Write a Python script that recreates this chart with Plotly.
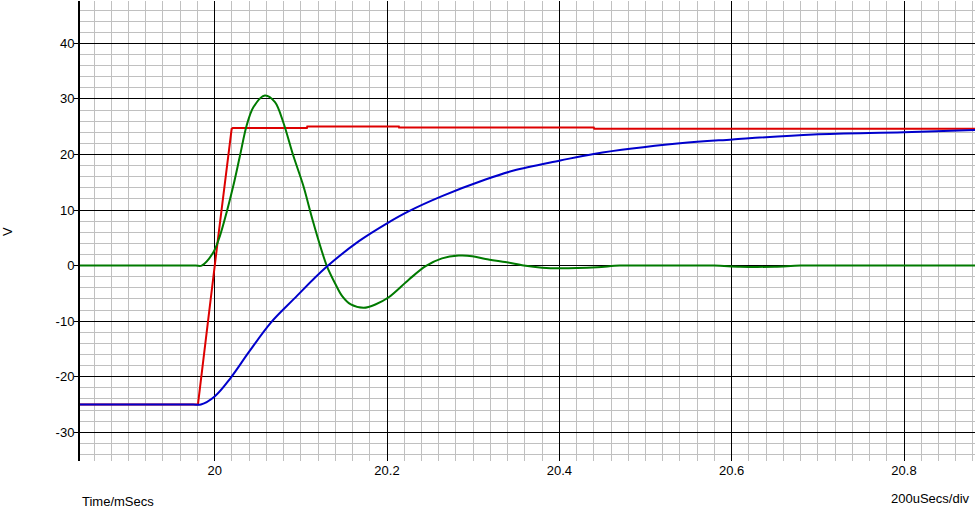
import plotly.graph_objects as go

# Time values (ms) and voltages (V)
red_t = [19.84, 19.9806, 20.0043, 20.0197, 20.021, 20.107, 20.1075,
         20.2137, 20.214, 20.44, 20.4405, 20.89]
red_v = [-25, -25, 5.4, 24.6, 24.75, 24.75, 25.05,
         25.05, 24.85, 24.85, 24.65, 24.65]

green_t = [19.84, 19.9, 19.95, 19.978, 19.9849, 19.9985, 20.0062, 20.0139, 20.0217, 20.0294,
           20.0371, 20.0449, 20.0583, 20.07, 20.0796, 20.0912, 20.1028, 20.1144, 20.13, 20.1404,
           20.148, 20.158, 20.173, 20.1865, 20.202, 20.2255, 20.2448, 20.2638, 20.2832, 20.2989,
           20.3143, 20.339, 20.3587, 20.38, 20.401, 20.444, 20.47, 20.52, 20.58, 20.61,
           20.65, 20.68, 20.75, 20.89]
green_v = [0, 0, 0, 0, 0, 2.4, 5.4, 9.6, 14.4, 19.8,
           25.2, 28.5, 30.6, 29.4, 25.8, 19.8, 14.4, 7.8, 0, -3.4,
           -5.5, -7.0, -7.6, -7.0, -5.7, -2.5, -0.1, 1.3, 1.8, 1.7,
           1.2, 0.6, 0, -0.4, -0.5, -0.3, 0, 0, 0, -0.2,
           -0.2, 0, 0, 0]

blue_t = [19.84, 19.9, 19.95, 19.975, 19.984, 20.0003, 20.0186, 20.04, 20.065, 20.092,
          20.1286, 20.1674, 20.201, 20.2255, 20.2638, 20.3143, 20.347, 20.401, 20.44, 20.54,
          20.601, 20.695, 20.80, 20.89]
blue_v = [-25, -25, -25, -25, -25, -23.5, -20.2, -15.5, -10.3, -6.0,
          -0.4, 4.4, 7.7, 9.8, 12.5, 15.5, 17.1, 18.9, 20.1, 22.0,
          22.7, 23.6, 24.0, 24.45]

x_ticks = [20, 20.2, 20.4, 20.6, 20.8]
x_tick_labels = ["20", "20.2", "20.4", "20.6", "20.8"]
y_ticks = [-30, -20, -10, 0, 10, 20, 30, 40]
y_tick_labels = ["-30", "-20", "-10", "0", "10", "20", "30", "40"]

FONT = "Liberation Sans, Arial, sans-serif"

fig = go.Figure()
fig.add_trace(go.Scatter(x=red_t, y=red_v, mode="lines",
                         line=dict(color="#dd0000", width=2), showlegend=False))
fig.add_trace(go.Scatter(x=green_t, y=green_v, mode="lines",
                         line=dict(color="#007a00", width=2, shape="spline", smoothing=0.9),
                         showlegend=False))
fig.add_trace(go.Scatter(x=blue_t, y=blue_v, mode="lines",
                         line=dict(color="#0000cc", width=2, shape="spline", smoothing=1.0),
                         showlegend=False))

fig.update_layout(
    width=975, height=509,
    margin=dict(l=80, r=0, t=1, b=48, autoexpand=False),
    paper_bgcolor="white", plot_bgcolor="white",
    font=dict(family=FONT, size=13, color="black"),
    hovermode=False,
    xaxis=dict(
        range=[19.8437, 20.8824], automargin=False,
        tickmode="array", tickvals=x_ticks, ticktext=x_tick_labels,
        showgrid=True, gridcolor="black", gridwidth=1,
        zeroline=False, showline=False, ticks="",
        minor=dict(dtick=0.02, tick0=20, showgrid=True, gridcolor="#c0c0c0", gridwidth=1),
        tickfont=dict(size=13),
    ),
    yaxis=dict(
        range=[-35.17, 47.62], automargin=False,
        tickmode="array", tickvals=y_ticks, ticktext=y_tick_labels,
        showgrid=True, gridcolor="black", gridwidth=1,
        zeroline=False, showline=True, linecolor="black", linewidth=2,
        ticks="outside", ticklen=4, tickcolor="black", tickwidth=1,
        ticklabelstandoff=-3,
        minor=dict(dtick=2, tick0=0, showgrid=True, gridcolor="#c0c0c0", gridwidth=1),
        tickfont=dict(size=13),
    ),
    annotations=[
        dict(text="Time/mSecs", xref="paper", yref="paper", x=0, y=-0.087,
             xanchor="left", yanchor="middle", showarrow=False, font=dict(size=13)),
        dict(text="200uSecs/div", xref="paper", yref="paper", x=0.9966, y=-0.0826,
             xanchor="right", yanchor="middle", showarrow=False, font=dict(size=13)),
        dict(text="V", xref="paper", yref="paper", x=-0.0816, y=0.5, textangle=-90,
             xanchor="center", yanchor="middle", showarrow=False, font=dict(size=13)),
    ],
)

fig.write_html("out.html", config={"displayModeBar": False},
               post_script="document.body.style.margin='0px';document.body.style.overflow='hidden';")
